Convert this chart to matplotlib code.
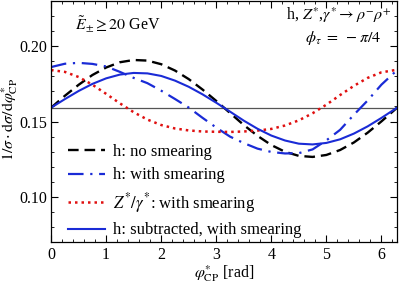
import numpy as np
import matplotlib
matplotlib.use("Agg")
import matplotlib.pyplot as plt
from matplotlib.ticker import MultipleLocator

plt.rcParams['font.family'] = ['Liberation Serif', 'DejaVu Serif']
plt.rcParams['mathtext.fontset'] = 'stix'

phi = [0.0, 0.25, 0.5, 0.75, 1.0, 1.25, 1.5, 1.75, 2.0, 2.25, 2.5, 2.75, 3.0,
       3.25, 3.5, 3.75, 4.0, 4.25, 4.5, 4.75, 5.0, 5.25, 5.5, 5.75, 6.0, 6.25, 6.283]

h_no_smear = [0.1592, 0.1671, 0.1744, 0.1809, 0.1859, 0.1894, 0.1909, 0.1905, 0.1881,
              0.1839, 0.1782, 0.1713, 0.1637, 0.1557, 0.1477, 0.1405, 0.1344, 0.1299,
              0.1272, 0.1265, 0.1278, 0.1311, 0.1361, 0.1426, 0.1501, 0.1581, 0.1592]

h_smear = [0.1862, 0.1884, 0.1890, 0.1883, 0.1866, 0.1830, 0.1790, 0.1755, 0.1705,
           0.1650, 0.1593, 0.1525, 0.1460, 0.1400, 0.1357, 0.1320, 0.1298, 0.1288,
           0.1290, 0.1315, 0.1375, 0.1445, 0.1545, 0.1640, 0.1745, 0.1830, 0.1858]

z_smear = [0.1842, 0.1830, 0.1796, 0.1745, 0.1684, 0.1621, 0.1562, 0.1513, 0.1477,
           0.1454, 0.1441, 0.1434, 0.1432, 0.1431, 0.1434, 0.1440, 0.1451, 0.1474,
           0.1508, 0.1555, 0.1612, 0.1676, 0.1737, 0.1790, 0.1827, 0.1842, 0.1842]

h_sub = [0.1592, 0.1649, 0.1703, 0.1750, 0.1787, 0.1812, 0.1823, 0.1820, 0.1803,
         0.1772, 0.1731, 0.1681, 0.1625, 0.1566, 0.1506, 0.1452, 0.1407, 0.1374,
         0.1353, 0.1348, 0.1358, 0.1382, 0.1420, 0.1468, 0.1524, 0.1584, 0.1592]

flat = 1 / (2 * np.pi)

labels = ["h: no smearing", "h: with smearing",
          r"$Z^{*}/\gamma^{*}$: with smearing", "h: subtracted, with smearing"]

fig = plt.figure(figsize=(3.99, 2.84), dpi=100)
ax = fig.add_axes([0.128, 0.148, 0.867, 0.848])

ax.axhline(flat, color='#555555', lw=0.9, zorder=1)
ax.plot(phi, h_no_smear, color='black', lw=1.7, ls=(0, (4.5, 2.5)), label=labels[0])
ax.plot(phi, h_smear, color='#1a2bd6', lw=1.6, ls=(0, (7, 3, 1, 3)), label=labels[1])
ax.plot(phi, z_smear, color='#e01010', lw=1.8, ls=(0, (1, 1.6)), label=labels[2])
ax.plot(phi, h_sub, color='#1a2bd6', lw=1.5, ls='-', label=labels[3])

ax.set_xlim(0, 2 * np.pi)
ax.set_ylim(0.07, 0.23)
ax.xaxis.set_major_locator(MultipleLocator(1))
ax.xaxis.set_minor_locator(MultipleLocator(0.2))
ax.yaxis.set_major_locator(MultipleLocator(0.05))
ax.yaxis.set_minor_locator(MultipleLocator(0.01))
ax.yaxis.set_major_formatter(matplotlib.ticker.FormatStrFormatter('%.2f'))
ax.tick_params(which='both', direction='in', top=True, right=True, labelsize=11.5)
ax.tick_params(which='major', length=5, width=0.8)
ax.tick_params(which='minor', length=2.5, width=0.6)
ax.tick_params(axis='y', which='major', pad=3)
for s in ax.spines.values():
    s.set_linewidth(0.9)

ax.set_xlabel(r"$\varphi^{*}_{\mathrm{CP}}$ [rad]", fontsize=11.5, labelpad=0)
ax.set_ylabel(r"$1/\sigma\cdot\mathrm{d}\sigma/\mathrm{d}\varphi^{*}_{\mathrm{CP}}$", fontsize=11.5)
ax.yaxis.set_label_coords(-0.09, 0.51)

ax.text(0.07, 0.90, r"$\tilde{E}_{\pm}\geq 20$ GeV", transform=ax.transAxes, fontsize=11.5, ha='left', va='center')
ax.text(0.985, 0.94, r"h, $Z^{*}$,$\gamma^{*}\rightarrow\rho^{-}\rho^{+}$", transform=ax.transAxes, fontsize=11.5, ha='right', va='center')
ax.text(0.955, 0.845, r"$\phi_{\tau}\ =\ -\pi/4$", transform=ax.transAxes, fontsize=11.5, ha='right', va='center')

ax.legend(loc='lower left', bbox_to_anchor=(0.05, 0.015), frameon=False, fontsize=12,
          handlelength=2.2, handletextpad=0.5, labelspacing=0.45, borderaxespad=0.0,
          borderpad=0.0)

fig.savefig("out.png", dpi=100)
